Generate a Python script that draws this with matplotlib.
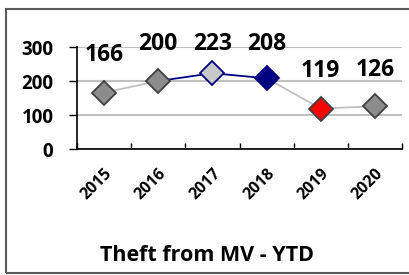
import matplotlib.pyplot as plt
from matplotlib.patches import Rectangle
import matplotlib.transforms as mtransforms

years = ["2015", "2016", "2017", "2018", "2019", "2020"]
thefts = [166, 200, 223, 208, 119, 126]
marker_faces = ["#8c8c8c", "#8c8c8c", "#c8c8c8", "#000080", "#ff0000", "#8c8c8c"]
marker_edges = ["#404040", "#404040", "#000080", "#000080", "#404040", "#404040"]
segment_colors = ["#c0c0c0", "#000080", "#000080", "#c0c0c0", "#c0c0c0"]
label_offsets = [38, 37, 29, 34, 38, 36]  # pixels above the point

plt.rcParams['font.family'] = ['Open Sans', 'DejaVu Sans']
plt.rcParams['font.weight'] = 'bold'

fig = plt.figure(figsize=(4.09, 2.75), dpi=100)
ax = fig.add_axes([0.1883, 0.458, 0.7947, 0.371])

x = list(range(len(years)))
for i in range(len(years) - 1):
    ax.plot(x[i:i + 2], thefts[i:i + 2], color=segment_colors[i], lw=1.3, zorder=2)
for i in range(len(years)):
    ax.plot(x[i], thefts[i], marker='D', ms=12, mfc=marker_faces[i],
            mec=marker_edges[i], mew=1.3, zorder=3)
    ax.annotate(str(thefts[i]), xy=(x[i], thefts[i]), xytext=(0, label_offsets[i] * 0.72),
                textcoords='offset points', ha='center', va='center',
                fontsize=16.5, fontweight='bold')

ax.set_xlim(-0.5, len(years) - 0.5)
ax.set_ylim(0, 300)
ax.set_yticks([0, 100, 200, 300])
ax.set_yticklabels(["0", "100", "200", "300"], fontsize=13.5, fontweight='bold')
ax.set_xticks(x)
ax.set_xticklabels(years, rotation=45, ha='right', va='top', fontsize=11.5,
                   fontweight='bold', rotation_mode='anchor')
shift = mtransforms.ScaledTranslation(-12 / 72, 0, fig.dpi_scale_trans)
for lab in ax.get_xticklabels():
    lab.set_transform(lab.get_transform() + shift)
ax.set_xticks([i - 0.5 for i in range(len(years) + 1)], minor=True)
ax.tick_params(axis='x', which='major', length=0, pad=12)
ax.tick_params(axis='x', which='minor', length=4, direction='in', width=1)
ax.tick_params(axis='y', length=6, width=1, pad=11, direction='out')

ax.grid(axis='y', color='#c0c0c0', lw=1.5)
ax.set_axisbelow(True)
for s in ['top', 'right']:
    ax.spines[s].set_visible(False)
ax.spines['left'].set_linewidth(1.2)
ax.spines['bottom'].set_linewidth(1.2)

fig.text(0.506, 0.07, "Theft from MV - YTD", ha='center', va='center',
         fontsize=15.5, fontweight='bold')

fig.patches.append(Rectangle((6 / 409, 2 / 275), 1.1, 264 / 275, transform=fig.transFigure,
                             fill=False, ec='#595959', lw=1.5))

fig.savefig("out.png", dpi=100)
